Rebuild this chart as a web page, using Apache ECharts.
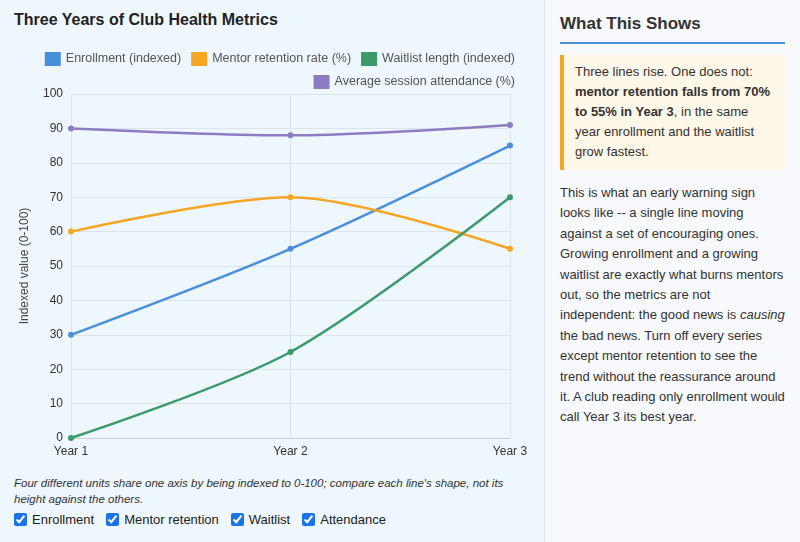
<!DOCTYPE html>
<html><head><meta charset="utf-8">
<script src="https://cdn.jsdelivr.net/npm/echarts@6/dist/echarts.min.js"></script>
<style>
body{margin:0;width:800px;height:542px;font-family:"Liberation Sans",Arial,sans-serif;color:#222;overflow:hidden}
#left{position:absolute;left:0;top:0;width:544px;height:542px;background:#eef6fe;border-right:1px solid #dde3ea}
#left h1{position:absolute;left:14px;top:11px;margin:0;font-size:16px;font-weight:bold}
#chart{position:absolute;left:0;top:38px;width:544px;height:432px}
#cap{position:absolute;left:14px;top:475px;width:520px;font-size:11.5px;font-style:italic;color:#333;line-height:16px}
#checks{position:absolute;left:14px;top:512px;font-size:13px}
#checks label{margin-right:12px}
#checks input{margin:0 5px 0 0;vertical-align:-2px;accent-color:#1a73e8;width:13px;height:13px}
#right{position:absolute;left:545px;top:0;width:255px;height:542px;background:#f7f9fc}
#right h2{position:absolute;left:15px;top:14px;margin:0;font-size:17px;color:#333;width:225px;padding-bottom:8px;border-bottom:2px solid #4a90d9}
#box{position:absolute;left:15px;top:55px;width:198px;padding:7px 12px 8px 11px;background:#fff7e8;border-left:4px solid #f5a623;font-size:13px;line-height:20px;color:#333}
#body{position:absolute;left:15px;top:183px;width:228px;font-size:13px;line-height:20.4px;color:#333}
</style></head><body>
<div id="left">
<h1>Three Years of Club Health Metrics</h1>
<div id="chart"></div>
<div id="cap">Four different units share one axis by being indexed to 0-100; compare each line's shape, not its height against the others.</div>
<div id="checks"><label><input type="checkbox" checked>Enrollment</label><label><input type="checkbox" checked>Mentor retention</label><label><input type="checkbox" checked>Waitlist</label><label><input type="checkbox" checked>Attendance</label></div>
</div>
<div id="right">
<h2>What This Shows</h2>
<div id="box">Three lines rise. One does not: <b>mentor retention falls from 70% to 55% in Year 3</b>, in the same year enrollment and the waitlist grow fastest.</div>
<div id="body">This is what an early warning sign looks like -- a single line moving against a set of encouraging ones. Growing enrollment and a growing waitlist are exactly what burns mentors out, so the metrics are not independent: the good news is <i>causing</i> the bad news. Turn off every series except mentor retention to see the trend without the reassurance around it. A club reading only enrollment would call Year 3 its best year.</div>
</div>
<script>
const years = ['Year 1', 'Year 2', 'Year 3']
const seriesNames = ['Enrollment (indexed)', 'Mentor retention rate (%)', 'Waitlist length (indexed)', 'Average session attendance (%)']
const enrollment = [30, 55, 85]
const mentorRetention = [60, 70, 55]
const waitlist = [0, 25, 70]
const attendance = [90, 88, 91]

function line(name, data, color){
    return {name: name, type: 'line', data: data, smooth: 0.3, symbol: 'circle', symbolSize: 6,
        lineStyle: {width: 2.5, color: color}, itemStyle: {color: color}}
}

const legendBase = {right: 24, itemWidth: 16, itemHeight: 14, itemGap: 10,
    textStyle: {fontSize: 12.5, color: '#555'}, icon: 'rect'}

var myChart = echarts.init(document.getElementById('chart'))
myChart.setOption({
    animation: false,
    legend: [
        Object.assign({top: 9, data: seriesNames.slice(0, 3)}, legendBase),
        Object.assign({top: 32, data: seriesNames.slice(3)}, legendBase)
    ],
    grid: {left: 71, right: 34, top: 56, bottom: 32},
    xAxis: {type: 'category', data: years, boundaryGap: false,
        axisLine: {lineStyle: {color: '#ccd'}}, axisTick: {show: false},
        axisLabel: {color: '#333', fontSize: 12},
        splitLine: {show: true, lineStyle: {color: '#dde3ea'}}},
    yAxis: {type: 'value', min: 0, max: 100, interval: 10, name: 'Indexed value (0-100)',
        nameLocation: 'middle', nameGap: 40, nameTextStyle: {color: '#444', fontSize: 12},
        axisLabel: {color: '#333', fontSize: 12},
        splitLine: {lineStyle: {color: '#dde3ea'}}},
    series: [
        line(seriesNames[0], enrollment, '#4a90d9'),
        line(seriesNames[1], mentorRetention, '#f5a623'),
        line(seriesNames[2], waitlist, '#3a9a6a'),
        line(seriesNames[3], attendance, '#8e7cc3')
    ]
})
</script>
</body></html>
